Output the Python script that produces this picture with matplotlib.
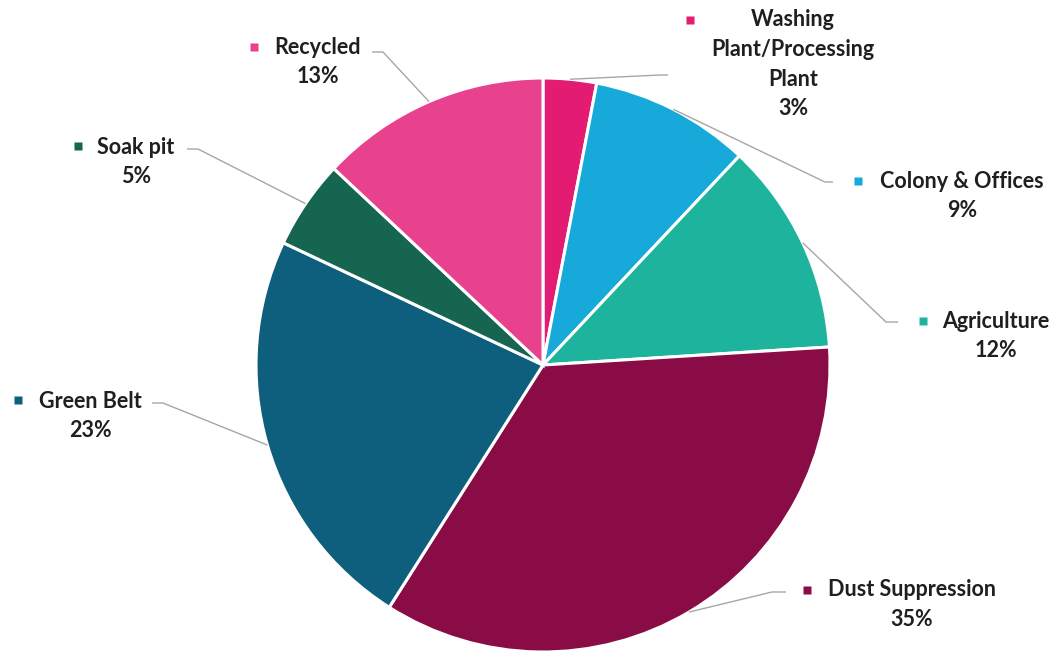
import numpy as np
import matplotlib
matplotlib.use("Agg")
import matplotlib.pyplot as plt

# Water usage distribution
categories = ["Washing\nPlant/Processing\nPlant", "Colony & Offices", "Agriculture",
              "Dust Suppression", "Green Belt", "Soak pit", "Recycled"]
shares = [3, 9, 12, 35, 23, 5, 13]
colors = ["#E31B72", "#16A9DA", "#1EB39C", "#8A0C46", "#0E5E7D", "#166550", "#E8428F"]

W, H = 1055, 653
fig = plt.figure(figsize=(W / 100, H / 100), dpi=100)
ax = fig.add_axes([0, 0, 1, 1])

cx, cy, R = 543, H - 365, 287
wedges, _ = ax.pie(shares, colors=colors, startangle=90, counterclock=False,
                   radius=R, center=(cx, cy),
                   wedgeprops=dict(edgecolor="white", linewidth=2.2))
ax.set_xlim(0, W)
ax.set_ylim(0, H)
ax.set_aspect("equal")
ax.axis("off")

# label layout in pixel coordinates (y measured from top)
# marker (x, y), text centre x, first line y, elbow point, elbow end
layout = [
    dict(mk=(690, 20), tx=793, ty=20, elbow=(660, 75), end=(668, 75)),
    dict(mk=(858, 181), tx=962, ty=181, elbow=(825, 182), end=(833, 182)),
    dict(mk=(923, 321), tx=996, ty=321, elbow=(886, 322), end=(898, 322)),
    dict(mk=(807, 590), tx=912, ty=590, elbow=(772, 592), end=(786, 592)),
    dict(mk=(18, 400), tx=90, ty=401, elbow=(163, 403), end=(152, 403)),
    dict(mk=(78, 146), tx=136, ty=147, elbow=(198, 149), end=(187, 149)),
    dict(mk=(254, 47), tx=318, ty=47, elbow=(383, 52), end=(372, 52)),
]

font = dict(family=["Lato", "DejaVu Sans"], fontweight="bold", fontsize=15.5,
            color="#1F1F1F")
line_gap = 29.5

for w, name, val, col, lay in zip(wedges, categories, shares, colors, layout):
    mid = np.deg2rad((w.theta1 + w.theta2) / 2)
    ex, ey = cx + R * np.cos(mid), cy + R * np.sin(mid)
    bx, by = lay["elbow"]
    sx, sy = lay["end"]
    ax.plot([ex, bx, sx], [ey, H - by, H - sy], color="#A6A6A6", lw=1.0,
            zorder=1, solid_capstyle="butt")
    mx, my = lay["mk"]
    ax.plot(mx, H - my, marker="s", ms=6, color=col, mec="none", zorder=3)
    lines = name.split("\n") + [f"{val}%"]
    for i, s in enumerate(lines):
        ax.text(lay["tx"], H - lay["ty"] - i * line_gap, s, ha="center",
                va="center", **font)

fig.savefig("out.png", dpi=100, facecolor="white")
